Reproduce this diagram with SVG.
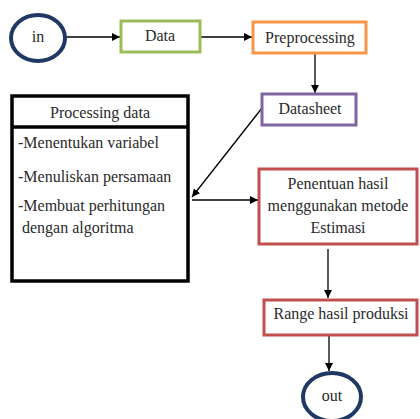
<svg xmlns="http://www.w3.org/2000/svg" width="420" height="419" viewBox="0 0 420 419">
<defs>
<marker id="ah" viewBox="0 0 10 10" refX="10" refY="5" markerWidth="8" markerHeight="8" markerUnits="userSpaceOnUse" orient="auto"><path d="M0,0 L10,5 L0,10 z" fill="#000"/></marker>
</defs>
<style>
text{font-family:"Liberation Serif","DejaVu Serif",serif;font-size:16px;fill:#2a2a2a}
.c{text-anchor:middle}
.e{fill:#fff;stroke:#1f3864;stroke-width:4}
.b{fill:#fff;stroke-width:3}
.cn{stroke:#000;stroke-width:1.3;fill:none;marker-end:url(#ah)}
</style>
<rect width="420" height="419" fill="#fff"/>
<g id="connectors">
<line class="cn" x1="66" y1="37" x2="120" y2="37"/>
<line class="cn" x1="200" y1="37" x2="252" y2="37"/>
<line class="cn" x1="315" y1="53" x2="315" y2="93"/>
<line class="cn" x1="262" y1="108" x2="192" y2="197"/>
<line class="cn" x1="192" y1="200" x2="258" y2="200"/>
<line class="cn" x1="328" y1="249" x2="328" y2="298"/>
<line class="cn" x1="329" y1="336" x2="329" y2="371"/>
</g>
<g id="in"><ellipse class="e" cx="38" cy="38" rx="27" ry="23"/><text class="c" x="38" y="42">in</text></g>
<g id="data"><rect class="b" x="121" y="21" width="79" height="31" stroke="#9bbb59"/><text class="c" x="160" y="41">Data</text></g>
<g id="preprocessing"><rect class="b" x="253" y="22" width="113" height="31" stroke="#f79646"/><text class="c" x="310" y="43">Preprocessing</text></g>
<g id="datasheet"><rect class="b" x="262" y="94" width="94" height="31" stroke="#8064a2"/><text class="c" x="310" y="114">Datasheet</text></g>
<g id="processing-data">
<rect x="12" y="96" width="176" height="185" fill="#fff" stroke="#000" stroke-width="3.5"/>
<line x1="12" y1="127" x2="188" y2="127" stroke="#000" stroke-width="3.5"/>
<text class="c" x="100" y="118">Processing data</text>
<text x="18" y="148">-Menentukan variabel</text>
<text x="18" y="182">-Menuliskan persamaan</text>
<text x="18" y="211">-Membuat perhitungan</text>
<text x="22" y="233">dengan algoritma</text>
</g>
<g id="estimasi"><rect class="b" x="259" y="169" width="158" height="75" stroke="#c0504d"/>
<text class="c" x="338" y="189">Penentuan hasil</text>
<text class="c" x="338" y="211">menggunakan metode</text>
<text class="c" x="338" y="233">Estimasi</text></g>
<g id="range"><rect class="b" x="264" y="300" width="153" height="35" stroke="#c0504d"/><text class="c" x="341" y="319">Range hasil produksi</text></g>
<g id="out"><ellipse class="e" cx="332" cy="397" rx="29" ry="24"/><text class="c" x="332" y="401">out</text></g>
</svg>
